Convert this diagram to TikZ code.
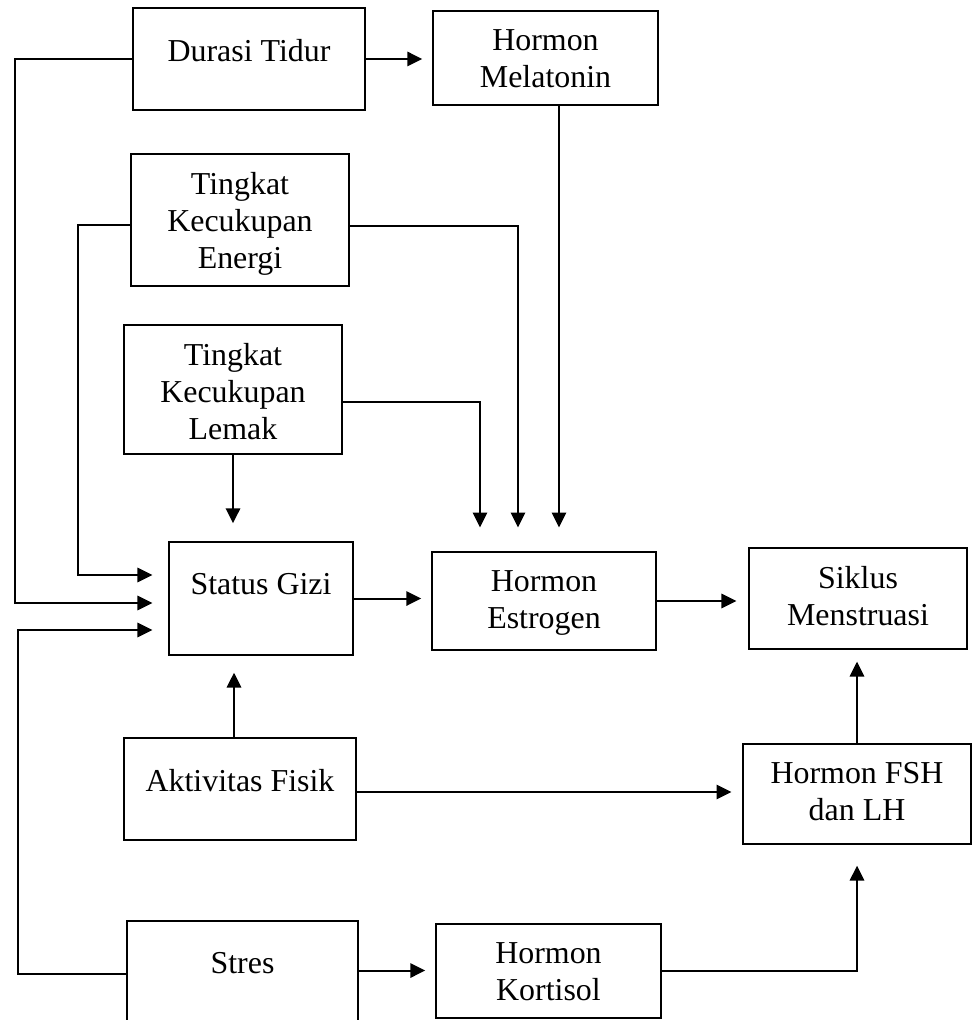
\documentclass[tikz,border=0pt]{standalone}
\usepackage{fontspec}
\setmainfont{Liberation Serif}
\usetikzlibrary{calc, positioning, fit, arrows.meta}

\begin{document}
\begin{tikzpicture}[x=0.376pt, y=-0.376pt,
        box/.style={draw, rectangle, line width=0.5pt, inner sep=0pt},
        txt/.style={inner sep=0pt, align=center, font=\fontsize{12}{13.8}\selectfont},
        line/.style={line width=0.75pt, -{Triangle[length=5.6pt, width=5.4pt]}}]
    \useasboundingbox (0,0) rectangle (973,1020);

    \node[box, fit={(133,8) (365,110)}] (11) {};
    \node[box, fit={(131,154) (349,286)}] (12) {};
    \node[box, fit={(124,325) (342,454)}] (13) {};
    \node[box, fit={(169,542) (353,655)}] (14) {};
    \node[box, fit={(124,738) (356,840)}] (15) {};
    \node[box, fit={(127,921) (358,1026)}] (16) {};

    \node[box, fit={(433,11) (658,105)}] (21) {};
    \node[box, fit={(432,552) (656,650)}] (22) {};
    \node[box, fit={(436,924) (661,1018)}] (23) {};

    \node[box, fit={(749,548) (967,649)}] (31) {};
    \node[box, fit={(743,744) (971,844)}] (32) {};

    \node[txt, below=12pt of 11.north] (11t) {Durasi Tidur};
    \node[txt, below=7.1pt of 12.north] (12t) {Tingkat\\Kecukupan\\Energi};
    \node[txt, below=7.1pt of 13.north] (13t) {Tingkat\\Kecukupan\\Lemak};
    \node[txt, below=12pt of 14.north] (14t) {Status Gizi};
    \node[txt, below=12pt of 15.north] (15t) {Aktivitas Fisik};
    \node[txt, below=12pt of 16.north] (16t) {Stres};
    \node[txt, below=7.1pt of 21.north] (21t) {Hormon\\Melatonin};
    \node[txt, below=7.1pt of 22.north] (22t) {Hormon\\Estrogen};
    \node[txt, below=7.1pt of 23.north] (23t) {Hormon\\Kortisol};
    \node[txt, below=7.1pt of 31.north] (31t) {Siklus\\Menstruasi};
    \node[txt, below=7.1pt of 32.north] (32t) {Hormon FSH\\dan LH};

    \draw[line, shorten >=3.8pt] (11.east) -- (11.east -| 21.west);
    \draw[line, shorten >=9pt] ($(21.south)+(13.5,0)$) -- ($(22.north)+(15,0)$);
    \draw[line, shorten >=9pt] ($(12.east)+(0,6)$) -| ($(22.north)+(-26,0)$);
    \draw[line, shorten >=9pt] ($(13.east)+(0,12.5)$) -| ($(22.north)+(-64,0)$);
    \draw[line, shorten >=6.8pt] (13.south) -- (13.south |- 14.north);

    \draw[line, shorten >=6pt] (11.west) -- ++(-117,0) |- ($(14.west)+(0,4.5)$);
    \draw[line, shorten >=6pt] ($(12.west)+(0,5)$) -- ++(-52,0) |- ($(14.west)+(0,-23.5)$);
    \draw[line, shorten >=6pt] (16.west) -- ++(-108,0) |- ($(14.west)+(0,31.5)$);
    \draw[line, shorten >=6.4pt] ($(15.north)+(-6,0)$) -- ($(14.south)+(-27,0)$);

    \draw[line, shorten >=3.8pt] (14.east) -- (14.east -| 22.west);
    \draw[line, shorten >=4.5pt] (22.east) -- (22.east -| 31.west);
    \draw[line, shorten >=4.1pt] ($(15.east)+(0,3)$) -- ($(15.east -| 32.west)+(0,3)$);
    \draw[line, shorten >=4.5pt] (32.north) -- (32.north |- 31.south);
    \draw[line, shorten >=3.8pt] ($(16.east)+(0,-3)$) -- ($(16.east -| 23.west)+(0,-3)$);
    \draw[line, shorten >=7.9pt] (23.east) -| (32.south);
\end{tikzpicture}
\end{document}
